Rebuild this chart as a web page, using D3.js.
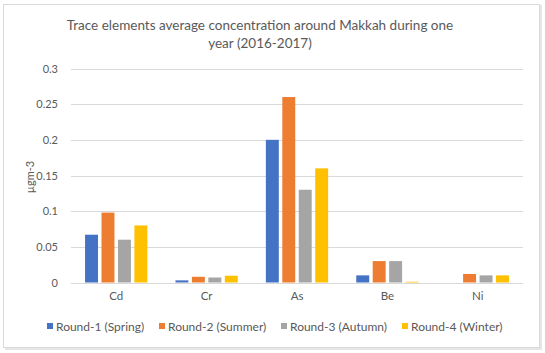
<!DOCTYPE html>
<html><head><meta charset="utf-8">
<script src="https://cdn.jsdelivr.net/npm/d3@7"></script>
<style>body{margin:0;background:#fff}svg{display:block}text{font-family:Lato,"Open Sans",sans-serif}</style>
</head><body><svg id="c" width="545" height="353"></svg>
<script>
const categories = ["Cd","Cr","As","Be","Ni"];
const seriesNames = ["Round-1 (Spring)","Round-2 (Summer)","Round-3 (Autumn)","Round-4 (Winter)"];
const spring = [0.067,0.003,0.2,0.01,0];
const summer = [0.098,0.008,0.26,0.03,0.012];
const autumn = [0.06,0.007,0.13,0.03,0.01];
const winter = [0.08,0.0095,0.16,0.001,0.01];
const yTicks = [0,0.05,0.1,0.15,0.2,0.25,0.3];
const colors = ["#4472C4","#ED7D31","#A5A5A5","#FFC000"];
const seriesValues = [spring,summer,autumn,winter];

(function(){
const svg = d3.select("#c");
svg.append("rect").attr("x",3.5).attr("y",4.5).attr("width",536).attr("height",343)
  .attr("fill","#fff").attr("stroke","#d9d9d9").attr("stroke-width",1);
svg.append("line").attr("x1",541).attr("x2",541).attr("y1",5).attr("y2",349).attr("stroke","#e6e6e6").attr("stroke-width",2);
svg.append("line").attr("x1",5).attr("x2",542).attr("y1",349).attr("y2",349).attr("stroke","#e6e6e6").attr("stroke-width",2);

const pl=71, pr=523, pt=68.5, pb=282.5;
const x = d3.scaleBand().domain(categories).range([pl,pr]).paddingInner(0).paddingOuter(0);
const y = d3.scaleLinear().domain([0,0.3]).range([pb,pt]);

svg.append("g").selectAll("line").data(yTicks).join("line")
  .attr("x1",pl).attr("x2",pr).attr("y1",d=>Math.round(y(d))+0.5).attr("y2",d=>Math.round(y(d))+0.5)
  .attr("stroke","#d9d9d9").attr("stroke-width",1);

const yAxis = d3.axisLeft(y).tickValues(yTicks).tickSize(0).tickPadding(0).tickFormat(d=>String(d));
const ya = svg.append("g").attr("transform",`translate(${pl-13},0)`).call(yAxis);
ya.select(".domain").remove();
ya.selectAll("text").attr("fill","#595959").style("font-size","11px").style("font-family","Lato,sans-serif");

const xAxis = d3.axisBottom(x).tickSize(0).tickPadding(0);
const xa = svg.append("g").attr("transform",`translate(0,${pb+9})`).call(xAxis);
xa.select(".domain").remove();
xa.selectAll("text").attr("fill","#595959").style("font-size","11.5px").style("font-family","Lato,sans-serif");

const bw = 12.95, gap = 3.5;
const groupW = 4*bw + 3*gap;
const x1 = d3.scaleBand().domain(d3.range(4)).range([0,groupW]).paddingInner(gap/(bw+gap)).paddingOuter(0);
seriesValues.forEach((vals,si)=>{
  svg.append("g").selectAll("rect").data(categories.map((c,i)=>({c,v:vals[i]}))).join("rect")
    .attr("x",d=>x(d.c)+(x.bandwidth()-groupW)/2+x1(si))
    .attr("width",x1.bandwidth())
    .attr("y",d=>y(d.v))
    .attr("height",d=>y(0)-y(d.v))
    .attr("fill",colors[si]);
});

const t = svg.append("text").attr("y",30).attr("text-anchor","middle")
  .attr("fill","#595959").style("font-size","13.5px");
t.append("tspan").attr("x",260).attr("dy",0).text("Trace elements average concentration around Makkah during one");
t.append("tspan").attr("x",260).attr("dy",18).text("year (2016-2017)");

svg.append("text").attr("transform","translate(34,177) rotate(-90)").attr("text-anchor","middle")
  .attr("fill","#595959").style("font-size","11px").text("µgm-3");

const legendX = [47,159,281,402];
const lg = svg.append("g");
seriesNames.forEach((n,i)=>{
  lg.append("rect").attr("x",legendX[i]).attr("y",323).attr("width",6).attr("height",6).attr("fill",colors[i]);
  lg.append("text").attr("x",legendX[i]+9).attr("y",330.5).attr("fill","#595959").style("font-size","12px").text(n);
});
})();
</script></body></html>
